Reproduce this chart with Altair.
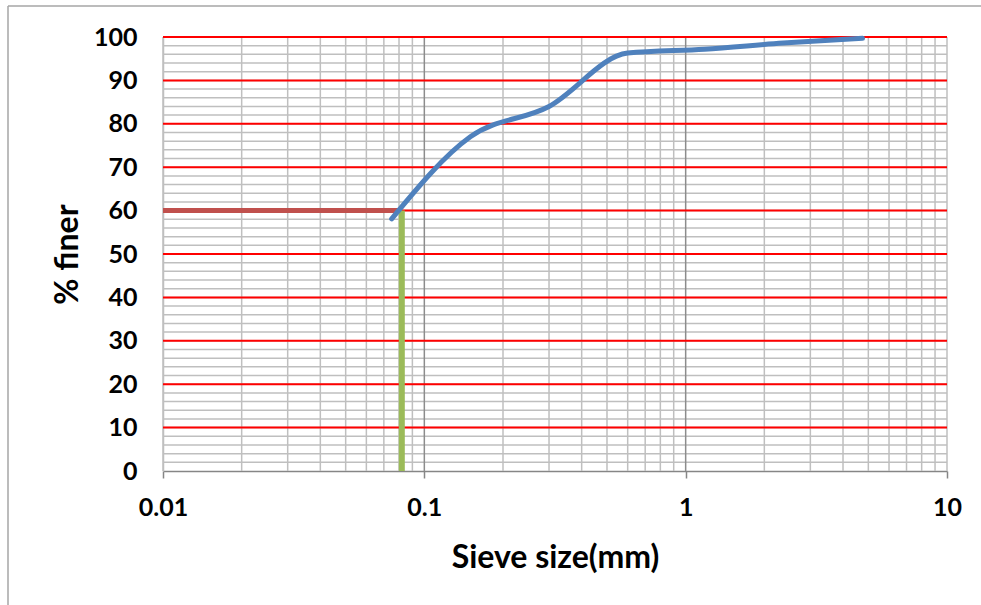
import altair as alt
import pandas as pd

# ---- data ----
sieve_mm = [0.075, 0.15, 0.3, 0.6, 1.18, 2.36, 4.75]
percent_finer = [58.1, 77.0, 84.0, 96.3, 97.2, 98.6, 99.7]
d60_mm = 0.082
d60_pct = 60
x_start = 0.01
x_tick_values = [0.01, 0.1, 1, 10]
y_tick_values = list(range(0, 101, 10))

FONT = "Lato"
W, H = 784, 434
PAD_L, PAD_T = 163, 37

xs = alt.Scale(type="log", domain=[0.01, 10], nice=False)
ys = alt.Scale(domain=[0, 100], nice=False, zero=False)

# grid positions (scale guides, not data)
minor_x = [k * 10 ** d for d in (-2, -1, 0) for k in range(2, 10)]
edge_x = [0.01, 10]
major_x = [0.1, 1]
minor_y = list(range(2, 100, 2))
red_y = list(range(10, 101, 10))

df_curve = pd.DataFrame({"size": sieve_mm, "finer": percent_finer})

x_axis = alt.Axis(
    values=x_tick_values, format="~g", title="Sieve size(mm)", grid=False,
    labelFont=FONT, labelFontWeight="bold", labelFontSize=25, labelColor="black",
    labelPadding=17, labelFlush=False, labelOverlap=False,
    tickSize=7, tickColor="#868686", tickWidth=1.5,
    domainColor="#868686", domainWidth=1.5,
    titleFont=FONT, titleFontWeight="bold", titleFontSize=32, titleColor="black",
    titleY=96, titleBaseline="alphabetic",
)
y_axis = alt.Axis(
    values=y_tick_values, title="% finer", grid=False, ticks=False,
    labelFont=FONT, labelFontWeight="bold", labelFontSize=25, labelColor="black",
    labelPadding=26, labelOverlap=False,
    domainColor="#BFBFBF", domainWidth=1.5,
    titleFont=FONT, titleFontWeight="bold", titleFontSize=32, titleColor="black",
    titleX=-86, titleBaseline="alphabetic",
)


def X(field, **kw):
    return alt.X(field, scale=xs, axis=x_axis, **kw)


def Y(field, **kw):
    return alt.Y(field, scale=ys, axis=y_axis, **kw)


one = pd.DataFrame({"a": [0]})
border_top = alt.Chart(one).mark_rule(color="#A6A6A6", strokeWidth=1.5).encode(
    x=alt.value(8 - PAD_L), x2=alt.value(W + 300), y=alt.value(6 - PAD_T)
)
border_left = alt.Chart(one).mark_rule(color="#A6A6A6", strokeWidth=1.5).encode(
    x=alt.value(8 - PAD_L), y=alt.value(6 - PAD_T), y2=alt.value(H + 300)
)

hgrid = alt.Chart(pd.DataFrame({"v": minor_y})).mark_rule(
    color="#BFBFBF", strokeWidth=1.5
).encode(y=Y("v:Q"))

vgrid = alt.Chart(pd.DataFrame({"v": minor_x + edge_x})).mark_rule(
    color="#BFBFBF", strokeWidth=1.5
).encode(x=X("v:Q"))

vmajor = alt.Chart(pd.DataFrame({"v": major_x})).mark_rule(
    color="#8C8C8C", strokeWidth=1.5
).encode(x=X("v:Q"))

redgrid = alt.Chart(pd.DataFrame({"v": red_y})).mark_rule(
    color="#FF0000", strokeWidth=2
).encode(y=Y("v:Q"))

curve = alt.Chart(df_curve).mark_line(
    color="#4F81BD", strokeWidth=5, interpolate="monotone", strokeCap="round"
).encode(x=X("size:Q"), y=Y("finer:Q"))

hline = alt.Chart(pd.DataFrame({"x0": [x_start], "x1": [d60_mm], "y": [d60_pct]})).mark_rule(
    color="#C0504D", strokeWidth=5
).encode(x=X("x0:Q"), x2="x1:Q", y=Y("y:Q"))

vline = alt.Chart(pd.DataFrame({"x": [d60_mm], "y0": [0], "y1": [d60_pct]})).mark_rule(
    color="#9BBB59", strokeWidth=6
).encode(x=X("x:Q"), y=Y("y0:Q"), y2="y1:Q")

chart = alt.layer(
    border_top, border_left, hgrid, vgrid, vmajor, redgrid, hline, vline, curve
).properties(
    width=W, height=H,
    padding={"left": PAD_L, "top": PAD_T, "right": 981 - PAD_L - W, "bottom": 605 - PAD_T - H},
    autosize=alt.AutoSizeParams(type="none"),
    background="white",
).configure_view(stroke=None)

chart.save("out.html", embed_options={"renderer": "svg", "actions": False})
